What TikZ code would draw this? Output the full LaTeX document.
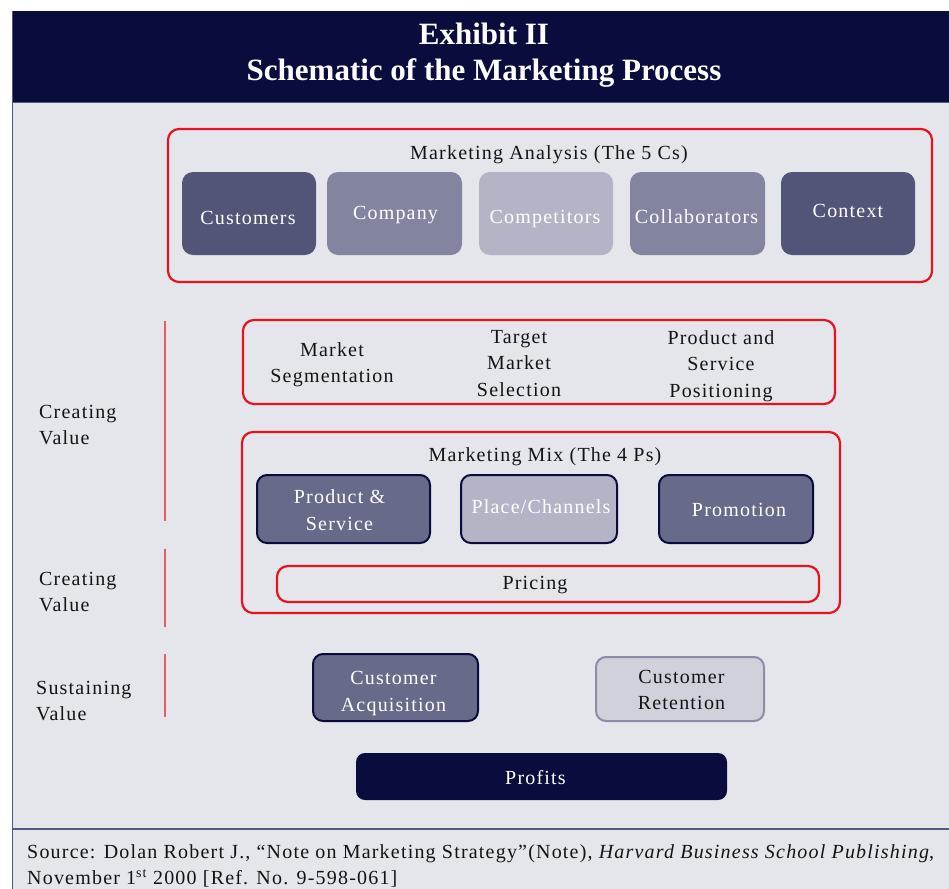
\documentclass[tikz,border=0pt]{standalone}
\usepackage{fontspec}
\setmainfont{Liberation Serif}
\newfontfamily\lsfont[LetterSpace=6]{Liberation Serif}
\definecolor{navy}{HTML}{0A0C3E}
\definecolor{panel}{HTML}{E5E6EB}
\definecolor{frameline}{HTML}{555880}
\definecolor{mred}{HTML}{E8131F}
\definecolor{lred}{HTML}{EE5A63}
\definecolor{cdark}{HTML}{525577}
\definecolor{cmid}{HTML}{83849F}
\definecolor{clight}{HTML}{B3B4C5}
\definecolor{pdark}{HTML}{686A89}
\definecolor{rfill}{HTML}{D0D1DB}
\definecolor{rline}{HTML}{8A8DA8}
\tikzset{
  every node/.style={font=\lsfont\fontsize{20bp}{26.5bp}\selectfont, align=center, inner sep=0pt, text=black!92},
  redframe/.style={draw=mred, line width=2.2bp, rounded corners=11bp, rectangle},
  cbox/.style={rectangle, rounded corners=11bp},
  pbox/.style={rectangle, draw=navy, line width=2bp, rounded corners=10bp, fill=pdark},
  wtext/.style={text=white},
  sideline/.style={draw=lred, line width=1.8bp},
  lefttext/.style={anchor=west, align=left},
}
\begin{document}
\begin{tikzpicture}[x=1bp,y=-1bp]
\useasboundingbox (0,0) rectangle (949,889);
\fill[white] (0,0) rectangle (949,889);
% panel and header
\fill[panel] (12,102) rectangle (949,889);
\fill[navy] (12,11) rectangle (949,102);
\draw[frameline, line width=1.5bp] (12,102.5) -- (949,102.5);
\draw[frameline, line width=1.5bp] (12.7,11) -- (12.7,889);
\draw[frameline, line width=1.6bp] (12,829) -- (949,829);
\node[font=\bfseries\fontsize{31bp}{36bp}\selectfont, text=white] (title) at (484,55) {Exhibit II\\Schematic of the Marketing Process};

% 5 Cs
\node[redframe, minimum width=764bp, minimum height=153bp] (fivec) at (550,205.5) {};
\node (fivect) at (549,155) {Marketing Analysis (The 5 Cs)};
\node[cbox, fill=cdark, minimum width=134bp, minimum height=83bp] (cust) at (249,213.5) {};
\node[cbox, fill=cmid, minimum width=135bp, minimum height=83bp] (comp) at (394.5,213.5) {};
\node[cbox, fill=clight, minimum width=134bp, minimum height=83bp] (compet) at (546,213.5) {};
\node[cbox, fill=cmid, minimum width=135bp, minimum height=83bp] (collab) at (697.5,213.5) {};
\node[cbox, fill=cdark, minimum width=134bp, minimum height=83bp] (context) at (848,213.5) {};
\node[wtext] (custt) at (248,217.5) {\raisebox{-4bp}{Customers}};
\node[wtext] (compt) at (395.5,215.5) {\raisebox{1bp}{Company}};
\node[wtext] (compett) at (545,219.5) {\raisebox{-3bp}{Competitors}};
\node[wtext] (collabt) at (696.5,216.5) {\raisebox{-3bp}{Collaborators}};
\node[wtext] (contextt) at (848,212.5) {\raisebox{3bp}{Context}};

% STP
\node[redframe, minimum width=592bp, minimum height=84bp] (stp) at (539,362) {};
\node (seg) at (332,364.5) {Market\\Segmentation};
\node (tms) at (519,363.5) {Target\\Market\\Selection};
\node (pos) at (721,366) {Product and\\Service\\Positioning};

% Marketing mix
\node[redframe, minimum width=598bp, minimum height=181bp] (mix) at (541,522.5) {};
\node (mixt) at (545,457) {Marketing Mix (The 4 Ps)};
\node[pbox, minimum width=173bp, minimum height=68bp] (prod) at (343.5,509) {};
\node[pbox, fill=clight, minimum width=156bp, minimum height=68bp] (place) at (539,509) {};
\node[pbox, minimum width=154bp, minimum height=68bp] (promo) at (736,509) {};
\node[wtext] (prodt) at (339.5,510) {Product \&\\Service};
\node[wtext] (placet) at (541,508) {\raisebox{3bp}{Place/Channels}};
\node[wtext] (promot) at (739,510) {Promotion};
\node[redframe, minimum width=542bp, minimum height=36bp] (price) at (548,584) {};
\node (pricet) at (535,585) {\raisebox{2bp}{Pricing}};

% Sustaining
\node[pbox, minimum width=165bp, minimum height=67bp] (acq) at (395.5,687.5) {};
\node[wtext] (acqt) at (393.5,693.5) {Customer\\Acquisition};
\node[pbox, fill=rfill, draw=rline, minimum width=168bp, minimum height=64bp] (ret) at (680,689) {};
\node (rett) at (681.5,690) {Customer\\Retention};
\node[cbox, fill=navy, rounded corners=9bp, minimum width=371bp, minimum height=47bp] (profit) at (541.5,776.5) {};
\node[wtext] (profitt) at (535.5,777.5) {Profits};

% left labels and lines
\node[lefttext] (cv1) at (39,425) {Creating\\Value};
\node[lefttext] (cv2) at (39,592) {Creating\\Value};
\node[lefttext] (sv) at (36,701) {Sustaining\\Value};
\coordinate (l1a) at (165,321); \coordinate (l1b) at (165,521);
\coordinate (l2a) at (165,549); \coordinate (l2b) at (165,627);
\coordinate (l3a) at (165,654); \coordinate (l3b) at (165,717);
\draw[sideline] (l1a) -- (l1b);
\draw[sideline] (l2a) -- (l2b);
\draw[sideline] (l3a) -- (l3b);

% footer
\node[lefttext] (src) at (27,866) {Source: Dolan Robert J., “Note on Marketing Strategy”(Note), \textit{Harvard Business School Publishing},\\November 1\textsuperscript{st} 2000 [Ref. No. 9-598-061]};
\end{tikzpicture}
\end{document}
